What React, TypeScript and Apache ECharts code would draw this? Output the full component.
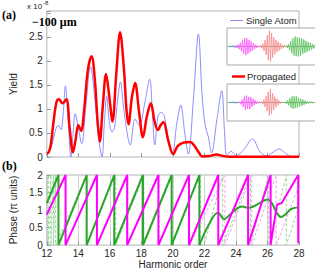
import React, { useEffect, useRef } from 'react';
import * as echarts from 'echarts';

// ---- Top panel: yield (x 1e-8) vs harmonic order ----
const singleAtomYield: [number, number][] = [
  [12.0, 0.04], [12.2, 0.14], [12.37, 0.31], [12.55, 0.56], [12.72, 0.66], [12.9, 0.57], [13.05, 0.95],
  [13.18, 1.48], [13.35, 0.8], [13.53, 0.0], [13.67, 0.5], [13.8, 0.9], [14.0, 0.6], [14.22, 0.28],
  [14.45, 0.95], [14.77, 1.88], [15.05, 1.2], [15.3, 0.35], [15.5, 0.0], [15.65, 0.7], [15.8, 1.27],
  [15.97, 0.72], [16.15, 0.52], [16.3, 0.62], [16.5, 1.2], [16.67, 1.56], [16.9, 0.95], [17.3, 0.25],
  [17.6, 0.79], [17.88, 0.65], [18.2, 1.1], [18.53, 1.62], [18.7, 0.9], [18.85, 0.25], [19.05, 0.85],
  [19.25, 0.93], [19.45, 0.86], [19.7, 0.4], [19.97, 0.1], [20.25, 0.7], [20.5, 1.08], [20.75, 0.5],
  [20.98, 0.06], [21.3, 1.2], [21.62, 2.56], [21.85, 1.3], [22.05, 0.65], [22.25, 0.42], [22.45, 0.08],
  [22.8, 0.8], [23.1, 1.38], [23.28, 0.5], [23.42, 0.03], [23.7, 0.12], [24.0, 0.03], [24.5, 0.15],
  [25.05, 0.38], [25.5, 0.12], [25.95, 0.02], [26.35, 0.1], [26.75, 0.17], [27.2, 0.06], [27.6, 0.01],
  [28.0, 0.02],
];

const propagatedYield: [number, number][] = [
  [12.0, 0.08], [12.12, 0.1], [12.25, 0.25], [12.45, 0.8], [12.62, 1.15], [12.76, 1.2], [13.0, 1.12],
  [13.24, 1.2], [13.45, 0.6], [13.66, 0.1], [13.82, 0.35], [14.0, 0.66], [14.18, 0.54], [14.36, 0.95],
  [14.6, 1.8], [14.84, 2.1], [15.05, 1.6], [15.22, 0.75], [15.36, 0.32], [15.55, 1.05], [15.76, 1.73],
  [15.95, 1.3], [16.17, 0.74], [16.4, 1.7], [16.65, 2.6], [16.9, 1.8], [17.05, 1.0], [17.18, 0.68],
  [17.4, 1.25], [17.6, 1.54], [17.85, 0.95], [18.1, 0.41], [18.35, 0.85], [18.6, 1.12], [18.85, 0.72],
  [19.05, 0.56], [19.22, 0.66], [19.4, 0.73], [19.7, 0.35], [20.02, 0.06], [20.31, 0.23], [20.7, 0.3],
  [21.1, 0.31], [21.35, 0.24], [21.59, 0.12], [21.88, 0.01], [22.3, 0.02], [22.75, 0.05], [23.2, 0.02],
  [23.6, 0.005], [25.0, 0.003], [28.0, 0.003],
];

// ---- Bottom panel: phase (pi units) vs harmonic order ----
const phaseMagenta: [number, number][] = [
  [12, 0.87], [13.19, 2], [13.19, 0], [15.18, 2], [15.18, 0], [17.1, 2], [17.1, 0], [19.08, 2], [19.08, 0],
  [21.02, 2], [21.02, 0], [22.88, 2], [22.88, 0], [24.77, 2], [24.77, 0], [26.2, 2], [26.2, 0],
  [26.6, 1.15], [26.9, 1.2], [27.95, 2], [27.95, 0.05],
];
const phaseGreen: [number, number][] = [
  [12, 1.2], [12.74, 2], [12.74, 0], [14.53, 2], [14.53, 0], [16.28, 2], [16.28, 0], [18.1, 2], [18.1, 0],
  [19.92, 2], [19.92, 0], [21.68, 2], [21.68, 0],
];
const phaseGreenWavy: [number, number][] = [
  [21.68, 0], [22.3, 0.6], [22.86, 0.92], [23.25, 0.74], [23.55, 0.84], [24.0, 1.02], [24.4, 1.1],
  [24.8, 1.06], [25.5, 1.2], [26.0, 1.3], [26.25, 1.22], [26.55, 0.95], [26.85, 0.8], [27.15, 0.88],
  [27.5, 1.03], [28.0, 1.08],
];
const phaseGreenDashed: [number, number][] = [
  [12, 1.45], [12.1, 2], [12.1, 0], [12.26, 2], [12.26, 0], [12.42, 2], [12.42, 0], [12.56, 2], [12.56, 0],
  [14.52, 2], [14.52, 0], [16.38, 2], [16.38, 0], [18.16, 2], [18.16, 0], [19.96, 2], [19.96, 0],
  [21.74, 2], [21.74, 0], [21.98, 0], [23.16, 2], [23.16, 0], [24.92, 2], [24.92, 0], [26.05, 2], [26.05, 0],
  [27.2, 2], [27.2, 0], [28, 1.1],
];
const phaseMagentaDashed: [number, number][] = [
  [12, 0.85], [13.2, 2], [13.2, 0], [15.2, 2], [15.2, 0], [17.14, 2], [17.14, 0], [19.12, 2], [19.12, 0],
  [21.04, 2], [21.04, 0], [23.3, 2], [23.3, 0], [25.0, 2], [25.0, 0], [26.55, 2], [26.55, 0], [28, 1.7],
];

// ---- Inset waveforms (time start, step, samples) ----
const inset1Noise = [0.02, -0.04, 0.05, -0.03, 0.06, -0.05, 0.04, -0.06, 0.05, -0.04, 0.03];
const inset1Magenta = [0, 0.04, -0.07, 0.1, -0.14, 0.2, -0.26, 0.33, -0.4, 0.45, -0.47, 0.45, -0.4, 0.36, -0.3, 0.27, -0.22, 0.18, -0.14, 0.1, -0.07, 0.05, -0.03, 0];
const inset1Red = [0, 0.06, -0.1, 0.16, -0.24, 0.34, -0.46, 0.6, -0.74, 0.86, -0.82, 0.72, -0.6, 0.5, -0.42, 0.36, -0.3, 0.26, -0.22, 0.18, -0.14, 0.1, -0.07, 0.04, 0];
const inset1Green = [0, 0.04, -0.08, 0.14, -0.2, 0.28, -0.36, 0.44, -0.5, 0.54, -0.52, 0.5, -0.54, 0.48, -0.5, 0.44, -0.4, 0.38, -0.34, 0.3, -0.28, 0.24, -0.22, 0.2, -0.16, 0.14, -0.12, 0.1];
const inset2Noise = [0.02, -0.03, 0.04, -0.03, 0.05, -0.04, 0.03, -0.05, 0.04, -0.03, 0.02];
const inset2Magenta = [0, 0.05, -0.1, 0.16, -0.24, 0.32, -0.4, 0.38, -0.34, 0.3, -0.36, 0.3, -0.24, 0.2, -0.15, 0.12, -0.08, 0.06, -0.04, 0.02, 0];
const inset2Red = [0, 0.05, -0.1, 0.16, -0.24, 0.34, -0.46, 0.58, -0.7, 0.72, -0.62, 0.5, -0.4, 0.32, -0.25, 0.2, -0.15, 0.1, -0.06, 0.03, 0];
const inset2Green = [0, 0.04, -0.08, 0.12, -0.16, 0.22, -0.27, 0.32, -0.35, 0.34, -0.3, 0.33, -0.28, 0.25, -0.22, 0.2, -0.18, 0.15, -0.13, 0.1, -0.08, 0.06, -0.05, 0.04, -0.03, 0.02, -0.02, 0.01, 0];
const insetStarts = { noise: 2, magenta1: 8, red1: 33, green1: 59, magenta2: 12, red2: 34, green2: 58 };
const insetStep = 1.1;

const toPairs = (vals: number[], start: number, step: number) => vals.map((v, i) => [start + i * step, v]);

const FONT = 'Liberation Sans, Arial, Helvetica, sans-serif';
const SERIF = 'Liberation Serif, Times New Roman, serif';
const BORDER = '#b4b4b4';
const TXT = '#262626';

export default function App() {
  const ref = useRef<HTMLDivElement>(null);
  useEffect(() => {
    const chart = echarts.init(ref.current!, null, { renderer: 'svg' });
    const line = (data: any, x: number, y: number, color: string, width: number, extra: any = {}) => ({
      type: 'line', xAxisIndex: x, yAxisIndex: y, data, symbol: 'none', showSymbol: false,
      lineStyle: { color, width, ...(extra.lineStyle || {}) }, smooth: extra.smooth ?? false, z: extra.z ?? 2,
      silent: true,
    });
    const baseAxis = {
      type: 'value', axisLine: { show: false },
      axisTick: { inside: true, length: 4, lineStyle: { color: '#9a9a9a' } },
      splitLine: { show: false },
    };
    const option: any = {
      animation: false,
      textStyle: { fontFamily: FONT },
      grid: [
        { left: 27, top: 11, width: 272, height: 146, show: true, borderColor: BORDER, borderWidth: 1 },
        { left: 27, top: 175, width: 272, height: 74, show: true, borderColor: BORDER, borderWidth: 1 },
        { left: 227, top: 28, width: 89, height: 37 },
        { left: 227, top: 84, width: 89, height: 37 },
      ],
      xAxis: [
        { ...baseAxis, gridIndex: 0, min: 12, max: 28, interval: 2, axisLabel: { show: false } },
        {
          ...baseAxis, gridIndex: 1, min: 12, max: 28, interval: 2,
          axisLabel: { fontSize: 10, color: TXT, margin: 3, fontFamily: FONT },
          splitLine: { show: true, lineStyle: { color: '#d2d2d2', width: 1 } },
          name: 'Harmonic order', nameLocation: 'middle', nameGap: 12,
          nameTextStyle: { fontSize: 10, color: TXT, fontFamily: FONT },
        },
        { type: 'value', gridIndex: 2, min: 0, max: 89, show: false },
        { type: 'value', gridIndex: 3, min: 0, max: 89, show: false },
      ],
      yAxis: [
        {
          ...baseAxis, gridIndex: 0, min: 0, max: 3.04, interval: 0.5,
          axisLabel: { fontSize: 10, color: TXT, margin: 4, fontFamily: FONT, formatter: (v: number) => (v > 2.9 ? '' : String(v)) },
          name: 'Yield', nameLocation: 'middle', nameGap: 18,
          nameTextStyle: { fontSize: 10, color: TXT, fontFamily: FONT },
        },
        {
          ...baseAxis, gridIndex: 1, min: 0, max: 2, interval: 0.5,
          axisLabel: { fontSize: 10, color: TXT, margin: 4, fontFamily: FONT },
          name: 'Phase (\u03c0 units)', nameLocation: 'middle', nameGap: 17,
          nameTextStyle: { fontSize: 10, color: TXT, fontFamily: FONT },
        },
        { type: 'value', gridIndex: 2, min: -1, max: 1, show: false },
        { type: 'value', gridIndex: 3, min: -1, max: 1, show: false },
      ],
      series: [
        line(singleAtomYield, 0, 0, '#8c8cff', 1, { smooth: 0.35 }),
        line(propagatedYield, 0, 0, '#ff0000', 2.5, { smooth: 0.35, z: 3 }),
        line(phaseGreenDashed, 1, 1, '#96d696', 1, { lineStyle: { type: [3, 2] } }),
        line(phaseMagentaDashed, 1, 1, '#f5a0f5', 1, { lineStyle: { type: [3, 2] } }),
        line(phaseGreen, 1, 1, '#2aa52a', 2, { z: 3 }),
        line(phaseGreenWavy, 1, 1, '#2aa52a', 2, { z: 3, smooth: 0.4 }),
        line(phaseMagenta, 1, 1, '#ff00ff', 2, { z: 4 }),
        line([[0, 0], [89, 0]], 2, 2, '#8a9a7a', 0.8, { z: 11 }),
        line(toPairs(inset1Noise, insetStarts.noise, 1), 2, 2, '#6a9ad0', 0.8, { z: 11 }),
        line(toPairs(inset1Magenta, insetStarts.magenta1, insetStep), 2, 2, '#ff55ff', 0.8, { z: 11 }),
        line(toPairs(inset1Red, insetStarts.red1, insetStep), 2, 2, '#f58a8a', 0.8, { z: 11 }),
        line(toPairs(inset1Green, insetStarts.green1, insetStep), 2, 2, '#5cc25c', 0.8, { z: 11 }),
        line([[0, 0], [89, 0]], 3, 3, '#8a9a7a', 0.8, { z: 11 }),
        line(toPairs(inset2Noise, insetStarts.noise, 1), 3, 3, '#6a9ad0', 0.8, { z: 11 }),
        line(toPairs(inset2Magenta, insetStarts.magenta2, insetStep), 3, 3, '#ff55ff', 0.8, { z: 11 }),
        line(toPairs(inset2Red, insetStarts.red2, insetStep), 3, 3, '#f58a8a', 0.8, { z: 11 }),
        line(toPairs(inset2Green, insetStarts.green2, insetStep), 3, 3, '#5cc25c', 0.8, { z: 11 }),
      ],
      graphic: [
        { type: 'rect', z: 10, shape: { x: 227, y: 28, width: 95, height: 37 }, style: { fill: '#fff', stroke: '#a8a8a8', lineWidth: 1 } },
        { type: 'rect', z: 10, shape: { x: 227, y: 84, width: 95, height: 37 }, style: { fill: '#fff', stroke: '#a8a8a8', lineWidth: 1 } },
        { type: 'line', z: 12, shape: { x1: 230, y1: 20.5, x2: 243, y2: 20.5 }, style: { stroke: '#8c8cff', lineWidth: 1 } },
        { type: 'text', z: 12, x: 246, y: 20.5, style: { text: 'Single Atom', fontSize: 9.5, fontFamily: FONT, fill: TXT, verticalAlign: 'middle' } },
        { type: 'line', z: 12, shape: { x1: 232, y1: 76.5, x2: 245, y2: 76.5 }, style: { stroke: '#ff0000', lineWidth: 2.5 } },
        { type: 'text', z: 12, x: 247, y: 76.5, style: { text: 'Propagated', fontSize: 9.5, fontFamily: FONT, fill: TXT, verticalAlign: 'middle' } },
        { type: 'text', z: 12, x: 2, y: 15, style: { text: '(a)', fontSize: 12, fontWeight: 'bold', fontFamily: SERIF, fill: '#000', verticalAlign: 'middle' } },
        { type: 'text', z: 12, x: 2, y: 166, style: { text: '(b)', fontSize: 12, fontWeight: 'bold', fontFamily: SERIF, fill: '#000', verticalAlign: 'middle' } },
        { type: 'text', z: 12, x: 32, y: 22, style: { text: '\u2212100 \u03bcm', fontSize: 12, fontWeight: 'bold', fontFamily: SERIF, fill: '#000', verticalAlign: 'middle' } },
        { type: 'text', z: 12, x: 27, y: 6, style: { text: 'x 10', fontSize: 8, fontFamily: FONT, fill: TXT, verticalAlign: 'middle' } },
        { type: 'text', z: 12, x: 43, y: 3, style: { text: '-8', fontSize: 6, fontFamily: FONT, fill: TXT, verticalAlign: 'middle' } },
      ],
    };
    chart.setOption(option);
    return () => chart.dispose();
  }, []);
  return <div ref={ref} style={{ width: 315, height: 270, position: 'absolute', left: 0, top: 0 }} />;
}
